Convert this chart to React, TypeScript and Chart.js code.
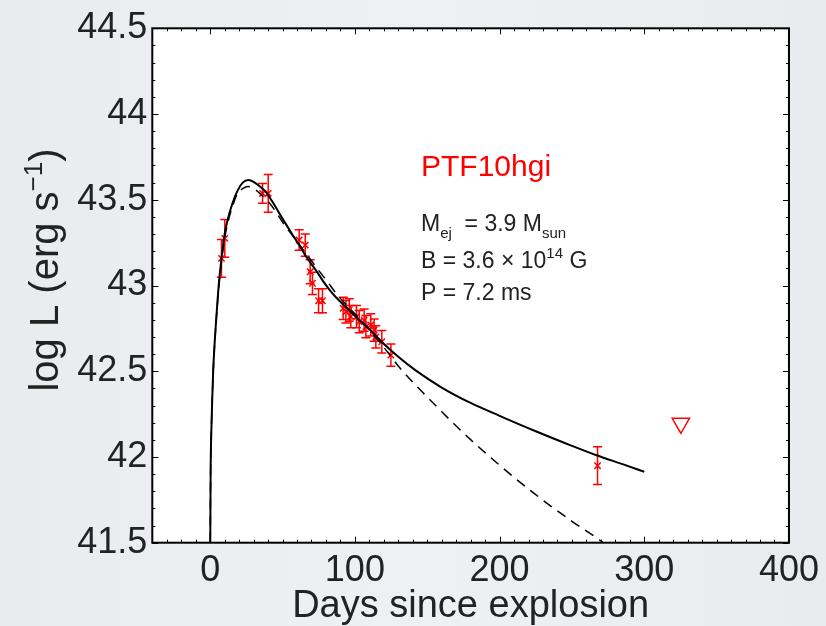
import { useEffect, useRef } from 'react';
import { Chart, registerables } from 'chart.js';

Chart.register(...registerables);

const FONT = '"Liberation Sans", Arial, Helvetica, sans-serif';

// Observed photometry (days since explosion, log L, 1-sigma error)
const obsDays = [7.8, 10.1, 36.2, 40.1, 61.5, 65.7, 69.1, 70.7, 74.9, 77.6, 91.9, 93.8, 96.1, 97.2, 101.1, 103, 106.4, 107.6, 111, 113.3, 114.5, 118.6, 124.9, 267.7];
const obsLogL = [43.158, 43.275, 43.537, 43.537, 43.265, 43.236, 43.08, 43.013, 42.911, 42.911, 42.867, 42.847, 42.857, 42.818, 42.818, 42.789, 42.798, 42.76, 42.77, 42.74, 42.7, 42.672, 42.594, 41.949];
const obsErr = [0.11, 0.11, 0.058, 0.11, 0.06, 0.065, 0.07, 0.065, 0.07, 0.07, 0.065, 0.065, 0.065, 0.065, 0.065, 0.065, 0.065, 0.065, 0.065, 0.065, 0.065, 0.065, 0.065, 0.11];

// Upper limit
const limitDays = [325.3];
const limitLogL = [42.196];

// Magnetar model (solid)
const solidDays = [0, 0.3, 0.8, 1.4, 2.1, 3.5, 4.8, 6.2, 8, 9.7, 12, 15.4, 19, 22.5, 26.5, 30, 34, 38.5, 44, 50, 55.5, 61.5, 67, 73, 78.5, 84.5, 90, 96, 101.5, 107.6, 113, 119, 130, 142, 160, 180, 200, 225, 250, 267, 285, 300];
const solidLogL = [41.4, 41.9, 42.15, 42.33, 42.507, 42.72, 42.88, 43.03, 43.17, 43.284, 43.38, 43.48, 43.555, 43.6, 43.615, 43.605, 43.58, 43.545, 43.475, 43.39, 43.315, 43.236, 43.16, 43.09, 43.02, 42.954, 42.905, 42.857, 42.81, 42.765, 42.72, 42.668, 42.585, 42.505, 42.405, 42.315, 42.24, 42.15, 42.065, 42.01, 41.958, 41.914];

// Model variant (dashed)
const dashedDays = [0, 0.3, 0.8, 1.4, 2.1, 3.5, 4.8, 6.2, 8, 9.7, 12, 15.4, 19, 22.5, 26, 29.3, 33.9, 40, 45.4, 50, 57, 65, 73, 81, 88, 100, 110, 120, 131, 150, 175, 200, 225, 250, 269, 276];
const dashedLogL = [41.4, 41.9, 42.15, 42.33, 42.5, 42.71, 42.87, 43.01, 43.15, 43.26, 43.36, 43.46, 43.54, 43.565, 43.578, 43.57, 43.54, 43.49, 43.43, 43.37, 43.29, 43.2, 43.11, 43.022, 42.944, 42.835, 42.74, 42.64, 42.52, 42.35, 42.14, 41.952, 41.78, 41.625, 41.516, 41.47];

const xTicks = [0, 100, 200, 300, 400];
const yTicks = [41.5, 42, 42.5, 43, 43.5, 44, 44.5];
const xRange = [-40, 400];
const yRange = [41.5, 44.5];

type Run = [string, number, number];

function drawRuns(ctx: CanvasRenderingContext2D, x: number, y: number, runs: Run[]) {
  let cx = x;
  for (const [t, size, dy] of runs) {
    ctx.font = `${size}px ${FONT}`;
    ctx.fillText(t, cx, y + dy);
    cx += ctx.measureText(t).width;
  }
}
function runsWidth(ctx: CanvasRenderingContext2D, runs: Run[]) {
  let w = 0;
  for (const [t, size] of runs) {
    ctx.font = `${size}px ${FONT}`;
    w += ctx.measureText(t).width;
  }
  return w;
}

const decorPlugin = {
  id: 'decor',
  beforeDraw(chart: any) {
    const { ctx, chartArea: a } = chart;
    ctx.save();
    const g = ctx.createLinearGradient(0, 0, chart.width, 0);
    g.addColorStop(0, '#e9ebee');
    g.addColorStop(0.5, '#eef0f2');
    g.addColorStop(1, '#e9ebee');
    ctx.fillStyle = g;
    ctx.fillRect(0, 0, chart.width, chart.height);
    ctx.fillStyle = '#ffffff';
    ctx.fillRect(a.left, a.top, a.right - a.left, a.bottom - a.top);
    ctx.restore();
  },
  beforeDatasetsDraw(chart: any) {
    const { ctx } = chart;
    const xs = chart.scales.x;
    const ys = chart.scales.y;
    ctx.save();
    ctx.strokeStyle = '#ff0000';
    ctx.lineWidth = 1.5;
    for (let i = 0; i < obsDays.length; i++) {
      const px = xs.getPixelForValue(obsDays[i]);
      const y1 = ys.getPixelForValue(obsLogL[i] - obsErr[i]);
      const y2 = ys.getPixelForValue(obsLogL[i] + obsErr[i]);
      ctx.beginPath();
      ctx.moveTo(px, y1);
      ctx.lineTo(px, y2);
      ctx.moveTo(px - 4.5, y1);
      ctx.lineTo(px + 4.5, y1);
      ctx.moveTo(px - 4.5, y2);
      ctx.lineTo(px + 4.5, y2);
      ctx.stroke();
    }
    ctx.restore();
  },
  afterDraw(chart: any) {
    const { ctx, chartArea: a } = chart;
    const xs = chart.scales.x;
    const ys = chart.scales.y;
    ctx.save();
    // ticks (inward, all sides)
    ctx.strokeStyle = '#000';
    ctx.lineWidth = 1;
    ctx.beginPath();
    for (let v = -40; v <= 400; v += 10) {
      const px = Math.round(xs.getPixelForValue(v)) + 0.5;
      const len = v % 100 === 0 ? 6 : 3;
      ctx.moveTo(px, a.bottom);
      ctx.lineTo(px, a.bottom - len);
      ctx.moveTo(px, a.top);
      ctx.lineTo(px, a.top + len);
    }
    for (let k = 0; k <= 30; k++) {
      const v = 41.5 + k * 0.1;
      const py = Math.round(ys.getPixelForValue(v)) + 0.5;
      const len = k % 5 === 0 ? 6 : 3;
      ctx.moveTo(a.left, py);
      ctx.lineTo(a.left + len, py);
      ctx.moveTo(a.right, py);
      ctx.lineTo(a.right - len, py);
    }
    ctx.stroke();
    // frame
    ctx.lineWidth = 2;
    ctx.strokeRect(a.left, a.top, a.right - a.left, a.bottom - a.top);

    // annotations
    ctx.textAlign = 'left';
    ctx.textBaseline = 'alphabetic';
    ctx.fillStyle = '#ff0000';
    drawRuns(ctx, 421, 176, [['PTF10hgi', 30, 0]]);
    ctx.fillStyle = '#222';
    drawRuns(ctx, 421, 231, [['M', 23, 0], ['ej', 15, 7], ['  = 3.9 M', 23, 0], ['sun', 15, 7]]);
    drawRuns(ctx, 421, 268, [['B = 3.6 \u00d7 10', 23, 0], ['14', 15, -10], [' G', 23, 0]]);
    drawRuns(ctx, 421, 300, [['P = 7.2 ms', 23, 0]]);

    // axis titles
    ctx.fillStyle = '#222';
    const xt: Run[] = [['Days since explosion', 38, 0]];
    const wx = runsWidth(ctx, xt);
    drawRuns(ctx, (a.left + a.right) / 2 - wx / 2, 617, xt);

    const yt: Run[] = [['log L (erg s', 40, 0], ['\u22121', 26, -16], [')', 40, 0]];
    const wy = runsWidth(ctx, yt);
    ctx.translate(58, 270);
    ctx.rotate(-Math.PI / 2);
    drawRuns(ctx, -wy / 2, 0, yt);
    ctx.restore();
  },
};

export default function App() {
  const ref = useRef<HTMLCanvasElement | null>(null);
  useEffect(() => {
    if (!ref.current) return;
    const chart = new Chart(ref.current, {
      type: 'scatter',
      data: {
        datasets: [
          {
            type: 'line',
            label: 'model',
            data: solidDays.map((d, i) => ({ x: d, y: solidLogL[i] })),
            borderColor: '#000',
            borderWidth: 2,
            pointRadius: 0,
            cubicInterpolationMode: 'monotone',
            fill: false,
          },
          {
            type: 'line',
            label: 'model dashed',
            data: dashedDays.map((d, i) => ({ x: d, y: dashedLogL[i] })),
            borderColor: '#000',
            borderWidth: 1.5,
            borderDash: [10, 7],
            pointRadius: 0,
            cubicInterpolationMode: 'monotone',
            fill: false,
          },
          {
            label: 'PTF10hgi',
            data: obsDays.map((d, i) => ({ x: d, y: obsLogL[i] })),
            pointStyle: 'crossRot',
            pointRadius: 4.5,
            borderColor: '#ff0000',
            borderWidth: 1.5,
          },
          {
            label: 'limit',
            data: limitDays.map((d, i) => ({ x: d, y: limitLogL[i] })),
            pointStyle: 'triangle',
            rotation: 180,
            pointRadius: 10,
            borderColor: '#ff0000',
            backgroundColor: 'rgba(0,0,0,0)',
            borderWidth: 1.5,
          },
        ],
      } as any,
      options: {
        animation: false,
        responsive: false,
        devicePixelRatio: 1,
        layout: { padding: { top: 28.3, right: 35, left: 0, bottom: 0 } },
        plugins: { legend: { display: false }, tooltip: { enabled: false } },
        scales: {
          x: {
            type: 'linear',
            min: xRange[0],
            max: xRange[1],
            grid: { display: false, drawTicks: false },
            border: { display: false },
            afterBuildTicks: (s: any) => {
              s.ticks = xTicks.map((v) => ({ value: v }));
            },
            afterFit: (s: any) => {
              s.height = 83.3;
            },
            ticks: {
              padding: 7,
              maxRotation: 0,
              autoSkip: false,
              color: '#222',
              font: { family: FONT, size: 36 },
              callback: (v: any) => String(v),
            },
          },
          y: {
            type: 'linear',
            min: yRange[0],
            max: yRange[1],
            grid: { display: false, drawTicks: false },
            border: { display: false },
            afterBuildTicks: (s: any) => {
              s.ticks = yTicks.map((v) => ({ value: v }));
            },
            afterFit: (s: any) => {
              s.width = 152.3;
            },
            ticks: {
              padding: 5,
              autoSkip: false,
              color: '#222',
              font: { family: FONT, size: 36 },
              callback: (v: any) => String(Math.round(Number(v) * 10) / 10),
            },
          },
        },
      },
      plugins: [decorPlugin],
    });
    return () => chart.destroy();
  }, []);
  return (
    <div style={{ position: 'fixed', left: 0, top: 0, width: 826, height: 626 }}>
      <canvas ref={ref} width={826} height={626} style={{ display: 'block' }} />
    </div>
  );
}
